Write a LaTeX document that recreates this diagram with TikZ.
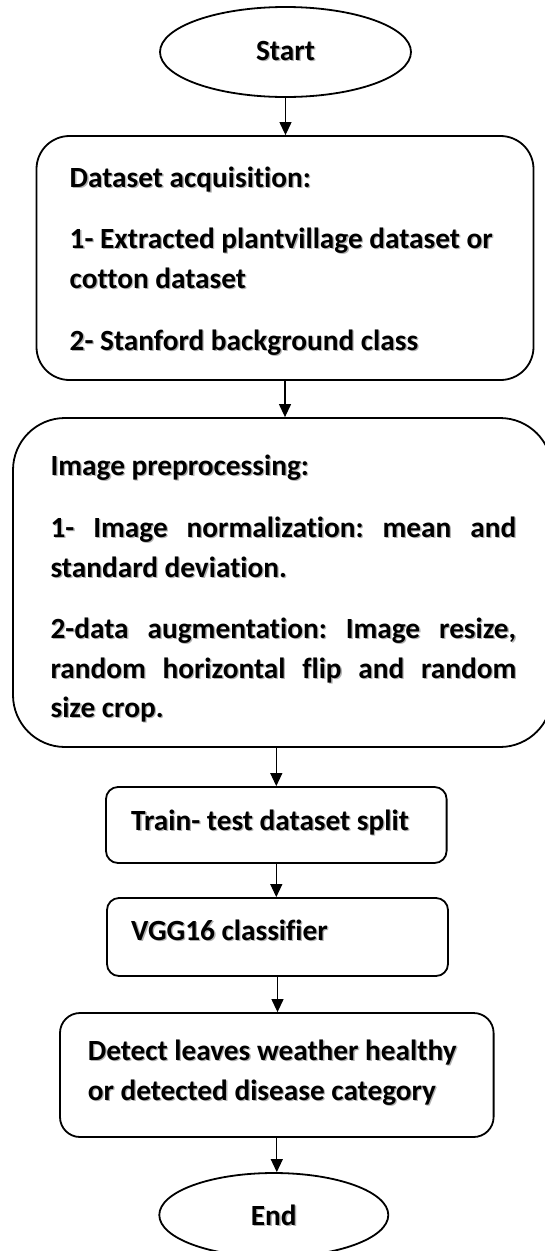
\documentclass[tikz,border=0pt]{standalone}
\usepackage{fontspec}
\setmainfont{Carlito}[Ligatures=NoCommon]
\usetikzlibrary{shapes.geometric,arrows.meta}
\frenchspacing
\newcommand\shtxt[1]{\makebox[0pt][l]{\raisebox{-1.3pt}{\hspace{1.3pt}\textcolor{black!30}{#1}}}#1}
\newcommand\jline[1]{\makebox[465.6pt][s]{#1}}
\begin{document}
\begin{tikzpicture}[x=1pt,y=-1pt,
  font=\fontsize{29.3}{35}\selectfont\bfseries,
  box/.style={draw, line width=1.8pt, rounded corners=#1, inner sep=0pt, anchor=center},
  term/.style={draw, ellipse, line width=1.8pt, inner sep=0pt, anchor=center},
  txt/.style={anchor=base west, inner sep=0pt},
  ctxt/.style={anchor=base, inner sep=0pt},
  arr/.style={-{Triangle[length=13pt,width=12pt]}, line width=1.2pt}]
\useasboundingbox (0,0) rectangle (545,1251);
\clip (0,0) rectangle (545,1251);

% shapes
\node[term, minimum width=251pt, minimum height=90pt] (start) at (285.5,52) {};
\node[box=33pt, minimum width=497pt, minimum height=244pt] (box1) at (285,258) {};
\node[box=52pt, minimum width=539pt, minimum height=329pt] (box2) at (282.5,582.5) {};
\node[box=12pt, minimum width=340.6pt, minimum height=76pt] (box3) at (276.3,825) {};
\node[box=12pt, minimum width=341pt, minimum height=78pt] (box4) at (277.5,937) {};
\node[box=20pt, minimum width=433.6pt, minimum height=124pt] (box5) at (276.8,1075) {};
\node[term, minimum width=229pt, minimum height=84pt] (end) at (273.8,1215) {};

% texts
\node[ctxt] (tstart) at (285.5,60) {\shtxt{Start}};
\node[txt] (t11) at (69.5,187) {\shtxt{Dataset acquisition:}};
\node[txt] (t12) at (69.5,248) {\shtxt{1- Extracted plantvillage dataset or}};
\node[txt] (t13) at (69.5,288) {\shtxt{cotton dataset}};
\node[txt] (t14) at (69.5,350) {\shtxt{2- Stanford background class}};
\node[txt] (t21) at (50.4,475) {\shtxt{Image preprocessing:}};
\node[txt] (t22) at (50.4,537) {\shtxt{\jline{1- Image normalization: mean and}}};
\node[txt] (t23) at (50.4,577) {\shtxt{standard deviation.}};
\node[txt] (t24) at (50.4,638) {\shtxt{\jline{2-data augmentation: Image resize,}}};
\node[txt] (t25) at (50.4,678) {\shtxt{\jline{random horizontal flip and random}}};
\node[txt] (t26) at (50.4,717) {\shtxt{size crop.}};
\node[txt] (t31) at (131,830) {\shtxt{Train- test dataset split}};
\node[txt] (t41) at (131,940) {\shtxt{VGG16 classifier}};
\node[txt] (t51) at (87.6,1060) {\shtxt{Detect leaves weather healthy}};
\node[txt] (t52) at (87.6,1100) {\shtxt{or detected disease category}};
\node[ctxt] (tend) at (273.8,1225) {\shtxt{End}};

% connectors
\draw[arr] (start.south) -- (start.south |- box1.north);
\draw[arr] (box1.south) -- (box1.south |- box2.north);
\draw[arr] (box3.north |- box2.south) -- (box3.north);
\draw[arr] (box3.south) -- (box3.south |- box4.north);
\draw[arr] (box4.south) -- (box4.south |- box5.north);
\draw[arr] (box5.south) -- (box5.south |- end.north);
\end{tikzpicture}
\end{document}
